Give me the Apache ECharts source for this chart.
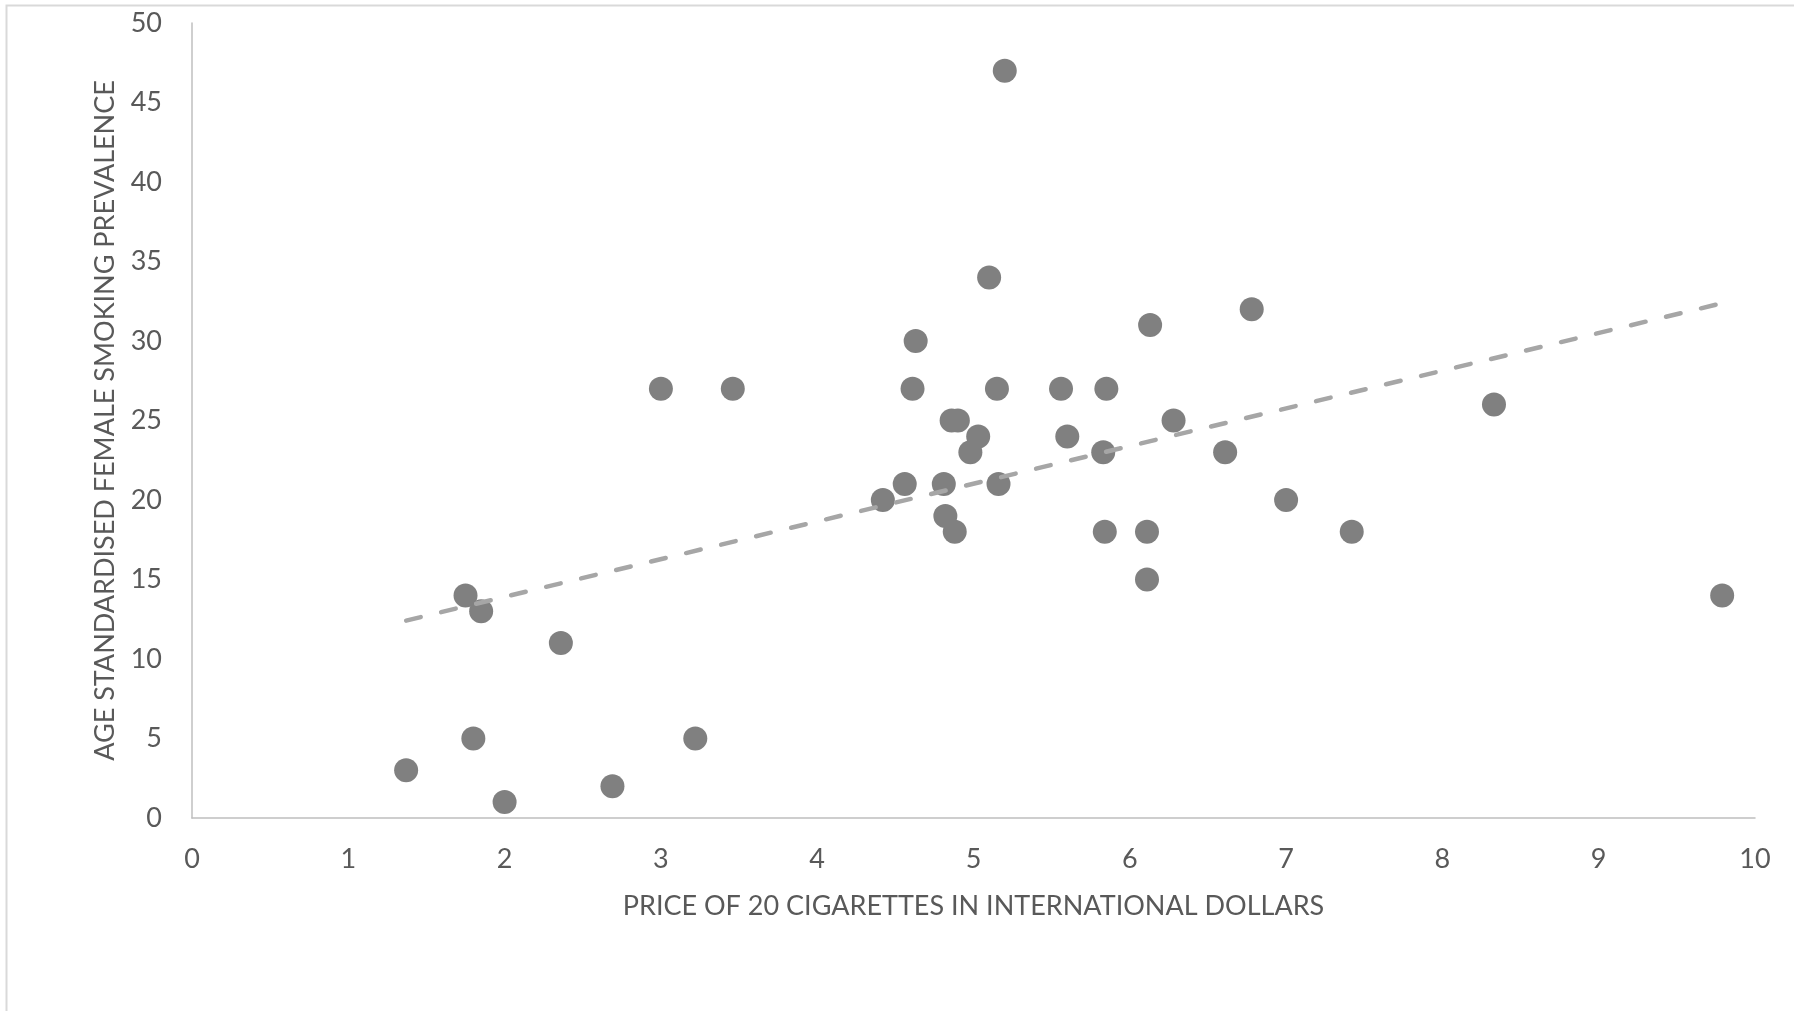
<!DOCTYPE html>
<html>
<head>
<meta charset="utf-8">
<script src="https://cdn.jsdelivr.net/npm/echarts@6/dist/echarts.min.js"></script>
<style>
html,body{margin:0;padding:0;background:#fff;}
#chart{width:1794px;height:1011px;}
</style>
</head>
<body>
<div id="chart"></div>
<script>
// Price of 20 cigarettes (international dollars)
var prices = [1.37,1.75,1.80,1.85,2.00,2.36,2.69,3.00,3.22,3.46,4.42,4.56,4.61,4.63,4.81,4.82,4.86,4.90,4.88,4.98,5.03,5.10,5.15,5.16,5.20,5.56,5.60,5.83,5.84,5.85,6.11,6.11,6.13,6.28,6.61,6.78,7.00,7.42,8.33,9.79];
// Age standardised female smoking prevalence
var prevalence = [3,14,5,13,1,11,2,27,5,27,20,21,27,30,21,19,25,25,18,23,24,34,27,21,47,27,24,23,18,27,18,15,31,25,23,32,20,18,26,14];
var xTicks = [0,1,2,3,4,5,6,7,8,9,10];
var yTicks = [0,5,10,15,20,25,30,35,40,45,50];
var xTitle = 'PRICE OF 20 CIGARETTES IN INTERNATIONAL DOLLARS';
var yTitle = 'AGE STANDARDISED FEMALE SMOKING PREVALENCE';

var points = prices.map(function(p,i){return [p, prevalence[i]];});
// linear trendline (least squares) over the data range
var n = prices.length, sx=0, sy=0, sxx=0, sxy=0;
for (var i=0;i<n;i++){sx+=prices[i];sy+=prevalence[i];sxx+=prices[i]*prices[i];sxy+=prices[i]*prevalence[i];}
var slope = (n*sxy - sx*sy)/(n*sxx - sx*sx);
var intercept = (sy - slope*sx)/n;
var xmin = Math.min.apply(null, prices), xmax = Math.max.apply(null, prices);
var trend = [[xmin, intercept + slope*xmin],[xmax, intercept + slope*xmax]];

var font = 'Lato';
var chart = echarts.init(document.getElementById('chart'));
chart.setOption({
  animation: false,
  backgroundColor: '#ffffff',
  graphic: [{
    type: 'rect', left: 4, top: 3, z: -1,
    shape: {width: 1900, height: 1100},
    style: {fill: 'none', stroke: '#d9d9d9', lineWidth: 2}
  }],
  grid: {left: 192, right: 39, top: 23, bottom: 193, containLabel: false},
  xAxis: {
    type: 'value', min: 0, max: 10, interval: 1,
    name: xTitle, nameLocation: 'middle', nameGap: 75,
    nameTextStyle: {color: '#595959', fontSize: 27, fontFamily: font},
    axisLine: {show: true, onZero: false, lineStyle: {color: '#bfbfbf', width: 1.5}},
    axisTick: {show: false},
    splitLine: {show: false},
    axisLabel: {color: '#595959', fontSize: 27, fontFamily: font, margin: 28,
      formatter: function(v){return xTicks.indexOf(v) >= 0 ? String(v) : '';}}
  },
  yAxis: {
    type: 'value', min: 0, max: 50, interval: 5,
    name: yTitle, nameLocation: 'middle', nameGap: 73, nameRotate: 90,
    nameTextStyle: {color: '#595959', fontSize: 27, fontFamily: font},
    axisLine: {show: true, lineStyle: {color: '#bfbfbf', width: 1.5}},
    axisTick: {show: false},
    splitLine: {show: false},
    axisLabel: {color: '#595959', fontSize: 27, fontFamily: font, margin: 30,
      formatter: function(v){return yTicks.indexOf(v) >= 0 ? String(v) : '';}}
  },
  series: [
    {
      type: 'line', data: trend, symbol: 'none', silent: true, z: 3,
      lineStyle: {color: '#a6a6a6', width: 4.5, type: [15, 21], cap: 'round'}
    },
    {
      type: 'scatter', data: points, symbol: 'circle', symbolSize: 24, z: 2,
      itemStyle: {color: '#808080', opacity: 1}
    }
  ]
});
</script>
</body>
</html>
